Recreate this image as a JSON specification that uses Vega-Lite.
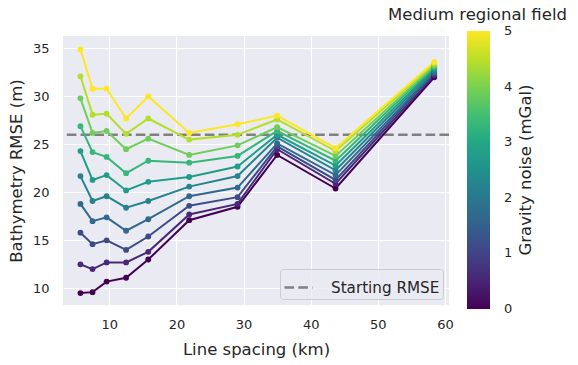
{
  "$schema": "https://vega.github.io/schema/vega-lite/v6.json",
  "width": 386,
  "height": 269,
  "autosize": {"type": "none"},
  "padding": {"left": 63, "top": 36, "right": 129, "bottom": 60},
  "background": "white",
  "title": {"text": "Medium regional field", "anchor": "start", "frame": "group", "dx": 325, "offset": 8, "fontSize": 16.5, "fontWeight": "normal", "color": "#262626", "font": "DejaVu Sans"},
  "config": {
    "font": "DejaVu Sans",
    "view": {"fill": "#EAEAF2", "stroke": null},
    "axis": {"domain": false, "ticks": false, "gridColor": "white", "gridWidth": 1.1, "gridOpacity": 1, "labelFontSize": 13, "labelColor": "#262626", "titleFontSize": 16.5, "titleFontWeight": "normal", "titleColor": "#262626"},
    "axisX": {"labelPadding": 13, "titlePadding": 10},
    "axisY": {"labelPadding": 14, "titlePadding": 8}
  },
  "resolve": {"scale": {"color": "independent"}, "legend": {"color": "independent"}},
  "datasets": {
    "rmse": [
      {"spacing": 5.7, "noise": 0, "rmse": 9.5}, {"spacing": 7.5, "noise": 0, "rmse": 9.6}, {"spacing": 9.6, "noise": 0, "rmse": 10.7}, {"spacing": 12.5, "noise": 0, "rmse": 11.1}, {"spacing": 15.8, "noise": 0, "rmse": 13.0}, {"spacing": 21.9, "noise": 0, "rmse": 17.1}, {"spacing": 29.1, "noise": 0, "rmse": 18.5}, {"spacing": 35.0, "noise": 0, "rmse": 23.9}, {"spacing": 43.7, "noise": 0, "rmse": 20.4}, {"spacing": 58.4, "noise": 0, "rmse": 32.0},
      {"spacing": 5.7, "noise": 0.556, "rmse": 12.5}, {"spacing": 7.5, "noise": 0.556, "rmse": 12.0}, {"spacing": 9.6, "noise": 0.556, "rmse": 12.7}, {"spacing": 12.5, "noise": 0.556, "rmse": 12.7}, {"spacing": 15.8, "noise": 0.556, "rmse": 13.8}, {"spacing": 21.9, "noise": 0.556, "rmse": 17.7}, {"spacing": 29.1, "noise": 0.556, "rmse": 18.8}, {"spacing": 35.0, "noise": 0.556, "rmse": 24.5}, {"spacing": 43.7, "noise": 0.556, "rmse": 20.9}, {"spacing": 58.4, "noise": 0.556, "rmse": 32.2},
      {"spacing": 5.7, "noise": 1.111, "rmse": 15.8}, {"spacing": 7.5, "noise": 1.111, "rmse": 14.6}, {"spacing": 9.6, "noise": 1.111, "rmse": 15.0}, {"spacing": 12.5, "noise": 1.111, "rmse": 14.0}, {"spacing": 15.8, "noise": 1.111, "rmse": 15.4}, {"spacing": 21.9, "noise": 1.111, "rmse": 18.6}, {"spacing": 29.1, "noise": 1.111, "rmse": 19.5}, {"spacing": 35.0, "noise": 1.111, "rmse": 24.8}, {"spacing": 43.7, "noise": 1.111, "rmse": 21.3}, {"spacing": 58.4, "noise": 1.111, "rmse": 32.4},
      {"spacing": 5.7, "noise": 1.667, "rmse": 18.8}, {"spacing": 7.5, "noise": 1.667, "rmse": 17.0}, {"spacing": 9.6, "noise": 1.667, "rmse": 17.4}, {"spacing": 12.5, "noise": 1.667, "rmse": 16.0}, {"spacing": 15.8, "noise": 1.667, "rmse": 17.2}, {"spacing": 21.9, "noise": 1.667, "rmse": 19.6}, {"spacing": 29.1, "noise": 1.667, "rmse": 20.5}, {"spacing": 35.0, "noise": 1.667, "rmse": 25.1}, {"spacing": 43.7, "noise": 1.667, "rmse": 21.8}, {"spacing": 58.4, "noise": 1.667, "rmse": 32.5},
      {"spacing": 5.7, "noise": 2.222, "rmse": 21.7}, {"spacing": 7.5, "noise": 2.222, "rmse": 19.1}, {"spacing": 9.6, "noise": 2.222, "rmse": 19.6}, {"spacing": 12.5, "noise": 2.222, "rmse": 18.4}, {"spacing": 15.8, "noise": 2.222, "rmse": 19.1}, {"spacing": 21.9, "noise": 2.222, "rmse": 20.6}, {"spacing": 29.1, "noise": 2.222, "rmse": 21.7}, {"spacing": 35.0, "noise": 2.222, "rmse": 25.7}, {"spacing": 43.7, "noise": 2.222, "rmse": 22.3}, {"spacing": 58.4, "noise": 2.222, "rmse": 32.7},
      {"spacing": 5.7, "noise": 2.778, "rmse": 24.3}, {"spacing": 7.5, "noise": 2.778, "rmse": 21.3}, {"spacing": 9.6, "noise": 2.778, "rmse": 21.8}, {"spacing": 12.5, "noise": 2.778, "rmse": 20.2}, {"spacing": 15.8, "noise": 2.778, "rmse": 21.1}, {"spacing": 21.9, "noise": 2.778, "rmse": 21.6}, {"spacing": 29.1, "noise": 2.778, "rmse": 22.7}, {"spacing": 35.0, "noise": 2.778, "rmse": 26.0}, {"spacing": 43.7, "noise": 2.778, "rmse": 22.8}, {"spacing": 58.4, "noise": 2.778, "rmse": 32.9},
      {"spacing": 5.7, "noise": 3.333, "rmse": 26.9}, {"spacing": 7.5, "noise": 3.333, "rmse": 24.2}, {"spacing": 9.6, "noise": 3.333, "rmse": 23.7}, {"spacing": 12.5, "noise": 3.333, "rmse": 22.0}, {"spacing": 15.8, "noise": 3.333, "rmse": 23.3}, {"spacing": 21.9, "noise": 3.333, "rmse": 23.1}, {"spacing": 29.1, "noise": 3.333, "rmse": 23.8}, {"spacing": 35.0, "noise": 3.333, "rmse": 26.4}, {"spacing": 43.7, "noise": 3.333, "rmse": 23.3}, {"spacing": 58.4, "noise": 3.333, "rmse": 33.1},
      {"spacing": 5.7, "noise": 3.889, "rmse": 29.8}, {"spacing": 7.5, "noise": 3.889, "rmse": 26.2}, {"spacing": 9.6, "noise": 3.889, "rmse": 26.4}, {"spacing": 12.5, "noise": 3.889, "rmse": 24.5}, {"spacing": 15.8, "noise": 3.889, "rmse": 25.6}, {"spacing": 21.9, "noise": 3.889, "rmse": 23.9}, {"spacing": 29.1, "noise": 3.889, "rmse": 24.9}, {"spacing": 35.0, "noise": 3.889, "rmse": 26.8}, {"spacing": 43.7, "noise": 3.889, "rmse": 23.8}, {"spacing": 58.4, "noise": 3.889, "rmse": 33.2},
      {"spacing": 5.7, "noise": 4.444, "rmse": 32.1}, {"spacing": 7.5, "noise": 4.444, "rmse": 28.1}, {"spacing": 9.6, "noise": 4.444, "rmse": 28.2}, {"spacing": 12.5, "noise": 4.444, "rmse": 26.1}, {"spacing": 15.8, "noise": 4.444, "rmse": 27.7}, {"spacing": 21.9, "noise": 4.444, "rmse": 25.5}, {"spacing": 29.1, "noise": 4.444, "rmse": 26.0}, {"spacing": 35.0, "noise": 4.444, "rmse": 27.6}, {"spacing": 43.7, "noise": 4.444, "rmse": 24.3}, {"spacing": 58.4, "noise": 4.444, "rmse": 33.4},
      {"spacing": 5.7, "noise": 5, "rmse": 34.9}, {"spacing": 7.5, "noise": 5, "rmse": 30.8}, {"spacing": 9.6, "noise": 5, "rmse": 30.8}, {"spacing": 12.5, "noise": 5, "rmse": 27.7}, {"spacing": 15.8, "noise": 5, "rmse": 30.0}, {"spacing": 21.9, "noise": 5, "rmse": 26.2}, {"spacing": 29.1, "noise": 5, "rmse": 27.1}, {"spacing": 35.0, "noise": 5, "rmse": 28.0}, {"spacing": 43.7, "noise": 5, "rmse": 24.6}, {"spacing": 58.4, "noise": 5, "rmse": 33.6}
    ],
    "start": [{"label": "Starting RMSE", "rmse": 26.0}]
  },
  "encoding": {
    "x": {"field": "spacing", "type": "quantitative", "scale": {"domain": [3.1, 60.6], "nice": false, "zero": false}, "axis": {"title": "Line spacing (km)", "values": [10, 20, 30, 40, 50, 60], "labelFlush": false}},
    "y": {"field": "rmse", "type": "quantitative", "scale": {"domain": [8.26, 36.3], "nice": false, "zero": false}, "axis": {"title": "Bathymetry RMSE (m)", "values": [10, 15, 20, 25, 30, 35], "labelFlush": false}}
  },
  "layer": [
    {
      "data": {"name": "start"},
      "mark": {"type": "rule", "color": "#808080", "strokeWidth": 2.6},
      "encoding": {
        "x": null,
        "strokeDash": {"field": "label", "type": "nominal", "scale": {"range": [[9.6, 4.2]]}, "legend": {"title": null, "orient": "bottom-right", "offset": 6, "symbolType": "stroke", "symbolStrokeColor": "#808080", "symbolStrokeWidth": 2.6, "symbolSize": 784, "labelFontSize": 15.2, "labelOffset": 17, "labelColor": "#262626", "fillColor": "rgba(234,234,242,0.8)", "strokeColor": "#cccccc", "cornerRadius": 3, "padding": 3}}
      }
    },
    {
      "data": {"name": "rmse"},
      "mark": {"type": "line", "strokeWidth": 2},
      "encoding": {
        "detail": {"field": "noise", "type": "nominal"},
        "color": {"field": "noise", "type": "quantitative", "scale": {"scheme": "viridis", "domain": [0, 5]}, "legend": null}
      }
    },
    {
      "data": {"name": "rmse"},
      "mark": {"type": "point", "filled": true, "opacity": 1, "size": 34},
      "encoding": {
        "color": {"field": "noise", "type": "quantitative", "scale": {"scheme": "viridis", "domain": [0, 5]}, "legend": {"type": "gradient", "orient": "none", "legendX": 404, "legendY": -5, "direction": "vertical", "gradientLength": 278, "gradientThickness": 23, "gradientStrokeWidth": 0, "values": [0, 1, 2, 3, 4, 5], "labelFontSize": 13, "labelColor": "#262626", "labelOffset": 14, "title": "Gravity noise (mGal)", "titleOrient": "right", "titleAnchor": "middle", "titleFontSize": 16.5, "titleFontWeight": "normal", "titleColor": "#262626", "titlePadding": 6, "encoding": {"labels": {"baseline": {"value": "middle"}}, "title": {"angle": {"value": -90}, "baseline": {"value": "top"}}}}}
      }
    }
  ]
}
